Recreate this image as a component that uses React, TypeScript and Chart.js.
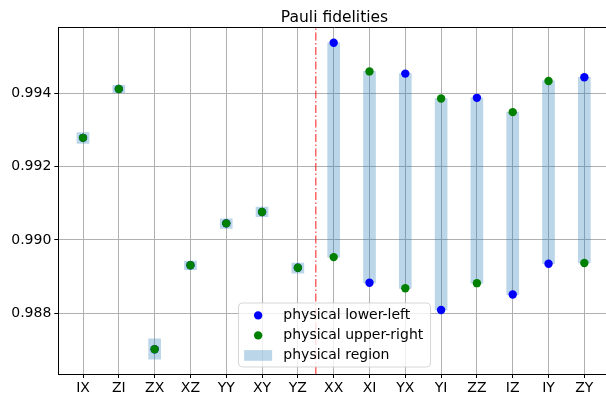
import React, { useEffect, useRef } from "react";
import { Chart, registerables } from "chart.js";

Chart.register(...registerables);

const labels = ["IX", "ZI", "ZX", "XZ", "YY", "XY", "YZ", "XX", "XI", "YX", "YI", "ZZ", "IZ", "IY", "ZY"];
const lowerLeft = [0.99278, 0.99411, 0.98702, 0.98931, 0.99045, 0.99076, 0.98924, 0.99537, 0.98883, 0.99453, 0.98809, 0.99387, 0.98851, 0.98935, 0.99443];
const upperRight = [0.99278, 0.99411, 0.98702, 0.98931, 0.99045, 0.99076, 0.98924, 0.98953, 0.99459, 0.98868, 0.99385, 0.98882, 0.99348, 0.99433, 0.98937];
const regionLow = [0.99263, 0.99401, 0.98675, 0.98919, 0.99031, 0.99063, 0.98909, 0.98953, 0.98883, 0.98868, 0.98809, 0.98882, 0.98851, 0.98935, 0.98937];
const regionHigh = [0.99292, 0.99421, 0.9873, 0.98942, 0.99057, 0.99089, 0.98937, 0.99537, 0.99459, 0.99453, 0.99385, 0.99387, 0.99348, 0.99433, 0.99443];
const yTicks = [0.988, 0.99, 0.992, 0.994];
const yMin = 0.986345;
const yMax = 0.995792;
const xMin = -0.69;
const xMax = 14.736;
const splitAt = 6.5;
const titleText = "Pauli fidelities";
const legendLabels = ["physical lower-left", "physical upper-right", "physical region"];

const FONT = "DejaVu Sans";
const GRID = "#b0b0b0";
const CANVAS_W = 640;
const CANVAS_H = 398;

const framePlugin = {
  id: "frame",
  afterDraw(chart: any) {
    const { ctx, chartArea } = chart;
    ctx.save();
    ctx.strokeStyle = "#000";
    ctx.lineWidth = 1;
    ctx.beginPath();
    ctx.moveTo(chartArea.left, Math.round(chartArea.top) + 0.5);
    ctx.lineTo(chartArea.right, Math.round(chartArea.top) + 0.5);
    ctx.stroke();

    const cx = (chartArea.left + chartArea.right) / 2;

    // title
    ctx.fillStyle = "#000";
    ctx.font = `15.5px '${FONT}'`;
    ctx.textAlign = "center";
    ctx.textBaseline = "alphabetic";
    ctx.fillText(titleText, cx, 21.7);

    // legend (lower center)
    const fs = 14;
    ctx.font = `${fs}px '${FONT}'`;
    const textW = Math.max(...legendLabels.map((t) => ctx.measureText(t).width));
    const padL = 5.7;
    const handle = 28;
    const gap = 11.2;
    const padR = 7.3;
    const w = padL + handle + gap + textW + padR;
    const h = 64;
    const x0 = cx - w / 2;
    const y0 = chartArea.bottom - 7 - h;
    const r = 4;
    ctx.beginPath();
    ctx.moveTo(x0 + r, y0);
    ctx.lineTo(x0 + w - r, y0);
    ctx.quadraticCurveTo(x0 + w, y0, x0 + w, y0 + r);
    ctx.lineTo(x0 + w, y0 + h - r);
    ctx.quadraticCurveTo(x0 + w, y0 + h, x0 + w - r, y0 + h);
    ctx.lineTo(x0 + r, y0 + h);
    ctx.quadraticCurveTo(x0, y0 + h, x0, y0 + h - r);
    ctx.lineTo(x0, y0 + r);
    ctx.quadraticCurveTo(x0, y0, x0 + r, y0);
    ctx.closePath();
    ctx.fillStyle = "rgba(255,255,255,0.8)";
    ctx.fill();
    ctx.strokeStyle = "rgba(204,204,204,0.8)";
    ctx.lineWidth = 1;
    ctx.stroke();

    const rows = [y0 + 12.4, y0 + 32.4, y0 + 52.4];
    const hx = x0 + padL + handle / 2;
    ctx.fillStyle = "blue";
    ctx.beginPath();
    ctx.arc(hx, rows[0], 4.2, 0, Math.PI * 2);
    ctx.fill();
    ctx.fillStyle = "green";
    ctx.beginPath();
    ctx.arc(hx, rows[1], 4.2, 0, Math.PI * 2);
    ctx.fill();
    ctx.fillStyle = "rgba(31,119,180,0.3)";
    ctx.fillRect(x0 + padL, rows[2] - 5.3, handle, 10.7);

    ctx.fillStyle = "#000";
    ctx.textBaseline = "middle";
    ctx.textAlign = "left";
    const tx = x0 + padL + handle + gap;
    legendLabels.forEach((t, i) => ctx.fillText(t, tx, rows[i]));
    ctx.restore();
  },
};

const xGridColor = (c: any) => (c.tick && c.index < labels.length ? GRID : "rgba(0,0,0,0)");
const xTickColor = (c: any) => (c.tick && c.index < labels.length ? "#000" : "rgba(0,0,0,0)");

export default function App() {
  const ref = useRef<HTMLCanvasElement>(null);

  useEffect(() => {
    if (!ref.current) return;
    Chart.defaults.font.family = FONT;
    const chart = new Chart(ref.current, {
      type: "bar",
      data: {
        datasets: [
          {
            type: "scatter",
            label: legendLabels[1],
            data: upperRight.map((v, i) => ({ x: i, y: v })),
            backgroundColor: "green",
            borderWidth: 0,
            pointRadius: 4.2,
            order: 0,
          } as any,
          {
            type: "scatter",
            label: legendLabels[0],
            data: lowerLeft.map((v, i) => ({ x: i, y: v })),
            backgroundColor: "blue",
            borderWidth: 0,
            pointRadius: 4.2,
            order: 1,
          } as any,
          {
            type: "line",
            label: "split",
            data: [
              { x: splitAt, y: yMin },
              { x: splitAt, y: yMax },
            ],
            borderColor: "rgba(255,0,0,0.6)",
            borderWidth: 1.5,
            borderDash: [8, 2.5, 1.5, 2.5],
            pointRadius: 0,
            fill: false,
            order: 2,
          } as any,
          {
            type: "bar",
            label: legendLabels[2],
            data: labels.map((_, i) => ({ x: i, y: [regionLow[i], regionHigh[i]] })),
            backgroundColor: "rgba(31,119,180,0.3)",
            borderWidth: 0,
            barThickness: 12,
            grouped: false,
            order: 3,
          } as any,
        ],
      },
      options: {
        animation: false,
        responsive: false,
        events: [],
        layout: { padding: { left: 0, right: 29.3, top: 27.3, bottom: 0 } },
        plugins: {
          legend: { display: false },
          tooltip: { enabled: false },
          title: { display: false },
        },
        scales: {
          x: {
            type: "linear",
            min: xMin,
            max: xMax,
            offset: false,
            afterBuildTicks: (scale: any) => {
              scale.ticks = labels.map((_, i) => ({ value: i }));
            },
            afterFit: (scale: any) => {
              scale.height = 24;
            },
            ticks: {
              color: "#000",
              font: { size: 14, family: FONT },
              padding: 2,
              maxRotation: 0,
              autoSkip: false,
              callback: (v: any) => labels[Math.round(Number(v))] ?? "",
            },
            grid: { offset: false, color: xGridColor, lineWidth: 1, tickColor: xTickColor, tickLength: 4 },
            border: { color: "#000", width: 1 },
          },
          y: {
            type: "linear",
            min: yMin,
            max: yMax,
            afterBuildTicks: (scale: any) => {
              scale.ticks = yTicks.map((v) => ({ value: v }));
            },
            afterFit: (scale: any) => {
              scale.width = 58.3;
            },
            ticks: {
              color: "#000",
              font: { size: 14, family: FONT },
              padding: 3,
              callback: (v: any) => Number(v).toFixed(3),
            },
            grid: { color: GRID, lineWidth: 1, tickColor: "#000", tickLength: 4 },
            border: { color: "#000", width: 1 },
          },
        },
      } as any,
      plugins: [framePlugin],
    });
    return () => chart.destroy();
  }, []);

  return (
    <div
      style={{
        position: "fixed",
        left: 0,
        top: 0,
        width: 606,
        height: 398,
        overflow: "hidden",
        background: "#fff",
      }}
    >
      <canvas
        ref={ref}
        width={CANVAS_W}
        height={CANVAS_H}
        style={{ display: "block", width: CANVAS_W, height: CANVAS_H }}
      />
    </div>
  );
}
